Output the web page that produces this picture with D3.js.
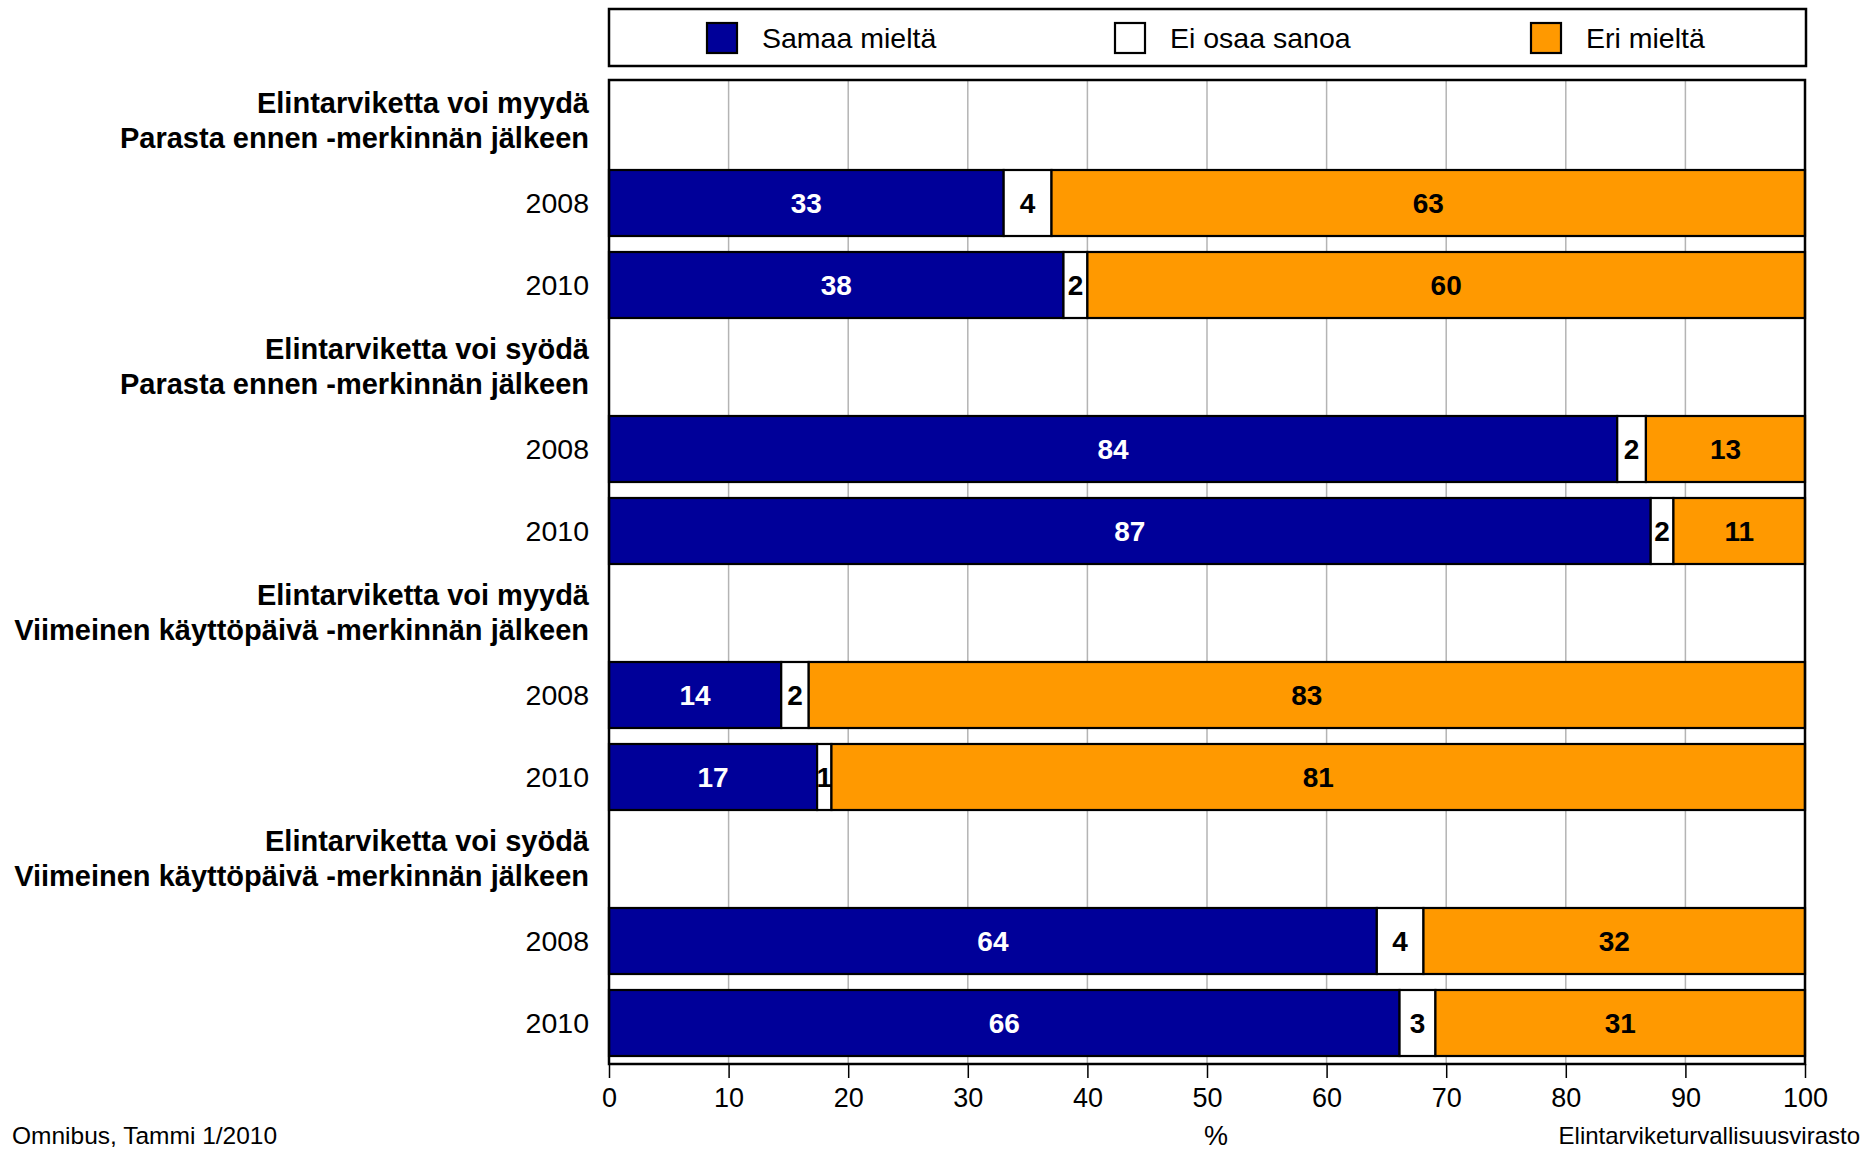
<!DOCTYPE html>
<html>
<head>
<meta charset="utf-8">
<script src="https://cdn.jsdelivr.net/npm/d3@7"></script>
<style>
  html, body { margin: 0; padding: 0; background: #fff; }
  svg { display: block; font-family: "Liberation Sans", Arial, sans-serif; }
</style>
</head>
<body>
<svg id="chart" width="1872" height="1150"></svg>
<script>
// ---- data ----
const groupTitles = [
  ["Elintarviketta voi myydä", "Parasta ennen -merkinnän jälkeen"],
  ["Elintarviketta voi syödä", "Parasta ennen -merkinnän jälkeen"],
  ["Elintarviketta voi myydä", "Viimeinen käyttöpäivä -merkinnän jälkeen"],
  ["Elintarviketta voi syödä", "Viimeinen käyttöpäivä -merkinnän jälkeen"]
];
const years = ["2008", "2010"];
const seriesNames = ["Samaa mieltä", "Ei osaa sanoa", "Eri mieltä"];
const samaa = [33.0, 38.0, 84.3, 87.1, 14.4, 17.4, 64.2, 66.1];
const eiOsaa = [4.0, 2.0, 2.4, 1.9, 2.3, 1.2, 3.9, 3.0];
const eri = [63.0, 60.0, 13.3, 11.0, 83.3, 81.4, 31.9, 30.9];
const samaaLabels = [33, 38, 84, 87, 14, 17, 64, 66];
const eiOsaaLabels = [4, 2, 2, 2, 2, 1, 4, 3];
const eriLabels = [63, 60, 13, 11, 83, 81, 32, 31];
const xTicks = [0, 10, 20, 30, 40, 50, 60, 70, 80, 90, 100];

// ---- layout ----
const svg = d3.select("#chart");
const L = 609, R = 1805, T = 80, B = 1064;
const colors = ["#000099", "#FFFFFF", "#FF9900"];
const labelColors = ["#FFFFFF", "#000000", "#000000"];

// slots: header, 2008, 2010 per group
const slots = [];
groupTitles.forEach((g, gi) => {
  slots.push({ type: "header", id: "h" + gi, lines: g });
  years.forEach((y, yi) => slots.push({ type: "bar", id: "b" + gi + "_" + yi, year: y, idx: gi * 2 + yi }));
});

const x = d3.scaleLinear().domain([0, 100]).range([L, R]);
const y = d3.scaleBand().domain(slots.map(s => s.id)).range([T, B]).padding(0);
const barH = y.bandwidth() * 0.805;

// gridlines
svg.append("g").selectAll("line").data(xTicks.filter(t => t > 0 && t < 100)).join("line")
  .attr("x1", d => x(d)).attr("x2", d => x(d)).attr("y1", T).attr("y2", B)
  .attr("stroke", "#b4b4b4").attr("stroke-width", 1.5);

// stacked data
const rows = samaa.map((v, i) => {
  const vals = [samaa[i], eiOsaa[i], eri[i]];
  const labs = [samaaLabels[i], eiOsaaLabels[i], eriLabels[i]];
  let acc = 0;
  return vals.map((v2, k) => { const s = { x0: acc, x1: acc + v2, k, lab: labs[k], i }; acc += v2; return s; });
});
const barSlots = slots.filter(s => s.type === "bar");

const gBars = svg.append("g");
barSlots.forEach(s => {
  const cy = y(s.id) + y.bandwidth() / 2;
  const segs = rows[s.idx];
  gBars.selectAll(null).data(segs).join("rect")
    .attr("x", d => x(d.x0))
    .attr("width", d => x(Math.min(d.x1, 100)) - x(d.x0))
    .attr("y", cy - barH / 2).attr("height", barH)
    .attr("fill", d => colors[d.k]).attr("stroke", "#000").attr("stroke-width", 2.2);
  gBars.selectAll(null).data(segs).join("text")
    .attr("x", d => (x(d.x0) + x(Math.min(d.x1, 100))) / 2)
    .attr("y", cy + 10)
    .attr("text-anchor", "middle")
    .attr("font-weight", "bold").attr("font-size", 28)
    .attr("fill", d => labelColors[d.k])
    .text(d => d.lab);
  svg.append("text").attr("x", 589).attr("y", cy + 10).attr("text-anchor", "end")
    .attr("font-size", 28.5).attr("fill", "#000").text(s.year);
});

// headers
slots.filter(s => s.type === "header").forEach(s => {
  const cy = y(s.id) + y.bandwidth() / 2;
  const t = svg.append("text").attr("text-anchor", "end").attr("font-weight", "bold").attr("font-size", 29).attr("fill", "#000");
  s.lines.forEach((ln, li) => {
    t.append("tspan").attr("x", 589).attr("y", cy - 8 + li * 35).text(ln);
  });
});

// plot border
svg.append("rect").attr("x", L).attr("y", T).attr("width", R - L).attr("height", B - T)
  .attr("fill", "none").attr("stroke", "#000").attr("stroke-width", 2.5);

// x axis
const xAxis = d3.axisBottom(x).tickValues(xTicks).tickSize(14).tickPadding(10).tickFormat(d3.format("d"));
const ax = svg.append("g").attr("transform", `translate(0,${B})`).call(xAxis);
ax.select(".domain").remove();
ax.selectAll(".tick line").attr("stroke", "#000").attr("stroke-width", 1.5);
ax.selectAll(".tick text").attr("font-size", 27).attr("fill", "#000").attr("font-family", "Liberation Sans, Arial, sans-serif");

svg.append("text").attr("x", 1216).attr("y", 1145).attr("text-anchor", "middle").attr("font-size", 27).text("%");
svg.append("text").attr("x", 12).attr("y", 1144).attr("font-size", 24.5).text("Omnibus, Tammi 1/2010");
svg.append("text").attr("x", 1860).attr("y", 1144).attr("text-anchor", "end").attr("font-size", 24).text("Elintarviketurvallisuusvirasto");

// legend
svg.append("rect").attr("x", 609).attr("y", 9).attr("width", 1197).attr("height", 57)
  .attr("fill", "#fff").attr("stroke", "#000").attr("stroke-width", 2.5);
const legX = [707, 1115, 1531];
const lg = svg.append("g");
lg.selectAll("rect").data(seriesNames).join("rect")
  .attr("x", (d, i) => legX[i]).attr("y", 23).attr("width", 30).attr("height", 30)
  .attr("fill", (d, i) => colors[i]).attr("stroke", "#000").attr("stroke-width", 2.2);
lg.selectAll("text").data(seriesNames).join("text")
  .attr("x", (d, i) => legX[i] + 55).attr("y", 48)
  .attr("font-size", 28.5).attr("fill", "#000").text(d => d);
</script>
</body>
</html>
